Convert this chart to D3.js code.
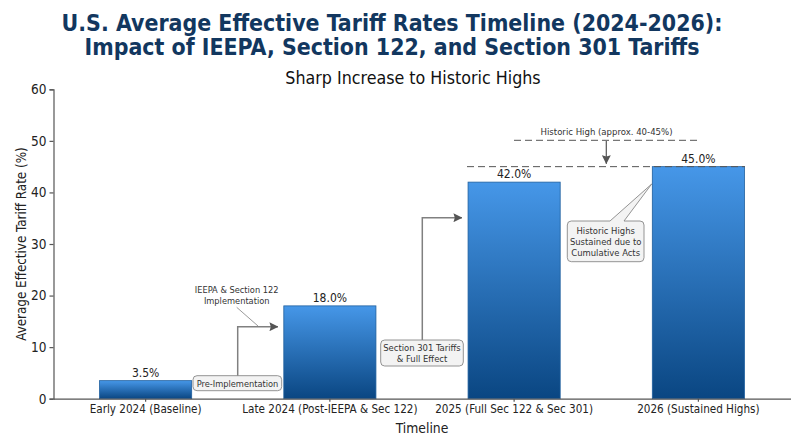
<!DOCTYPE html>
<html lang="en">
<head>
<meta charset="utf-8">
<script src="https://cdn.jsdelivr.net/npm/d3@7/dist/d3.min.js"></script>
<style>
html, body { margin: 0; padding: 0; background: #fff; }
svg { display: block; }
text { font-family: "DejaVu Sans Condensed", "DejaVu Sans", sans-serif; font-stretch: condensed; fill: #222; }
</style>
</head>
<body>
<script>
// chart values
const categories = ["Early 2024 (Baseline)", "Late 2024 (Post-IEEPA & Sec 122)", "2025 (Full Sec 122 & Sec 301)", "2026 (Sustained Highs)"];
const rates = [3.5, 18.0, 42.0, 45.0];
const yTicks = [0, 10, 20, 30, 40, 50, 60];
const titleLines = ["U.S. Average Effective Tariff Rates Timeline (2024-2026):", "Impact of IEEPA, Section 122, and Section 301 Tariffs"];

const width = 800, height = 447;
const svg = d3.select("body").append("svg").attr("width", width).attr("height", height);

const x = d3.scaleBand().domain(categories).range([53.5, 790.5]).paddingInner(0.5).paddingOuter(0.25);
const y = d3.scaleLinear().domain([0, 60]).range([398.7, 89.3]);
const cx = i => x(categories[i]) + x.bandwidth() / 2;

const defs = svg.append("defs");
const grad = defs.append("linearGradient").attr("id", "barFill").attr("x1", 0).attr("y1", 0).attr("x2", 0).attr("y2", 1);
grad.append("stop").attr("offset", "0%").attr("stop-color", "#4697e8");
grad.append("stop").attr("offset", "100%").attr("stop-color", "#0a4682");

const marker = defs.append("marker").attr("id", "arrow").attr("viewBox", "0 0 10 10")
	.attr("refX", 9.5).attr("refY", 5).attr("markerWidth", 9).attr("markerHeight", 9)
	.attr("markerUnits", "userSpaceOnUse").attr("orient", "auto");
marker.append("path").attr("d", "M0,0 L10,5 L0,10 L1.5,5 Z").attr("fill", "#555");

// titles
svg.append("g").selectAll("text").data(titleLines).enter().append("text")
	.attr("x", 392).attr("y", (d, i) => 31 + i * 24)
	.attr("text-anchor", "middle").attr("font-size", 22.9).attr("font-weight", "bold")
	.style("fill", "#12375f").text(d => d);
svg.append("text").attr("x", 413).attr("y", 84).attr("text-anchor", "middle")
	.attr("font-size", 17.7).style("fill", "#111").text("Sharp Increase to Historic Highs");

// bars
svg.selectAll("rect.bar").data(rates).enter().append("rect").attr("class", "bar")
	.attr("x", (d, i) => x(categories[i])).attr("width", x.bandwidth())
	.attr("y", d => y(d)).attr("height", d => y(0) - y(d))
	.attr("fill", "url(#barFill)").attr("stroke", "#1f5f9e").attr("stroke-width", 0.8);

svg.selectAll("text.val").data(rates).enter().append("text").attr("class", "val")
	.attr("x", (d, i) => cx(i)).attr("y", d => y(d) - 4)
	.attr("text-anchor", "middle").attr("font-size", 12)
	.text(d => d.toFixed(1) + "%");

// axes
const yAxis = svg.append("g").attr("transform", "translate(53.5,0)")
	.call(d3.axisLeft(y).tickValues(yTicks).tickSize(4).tickPadding(3));
const xAxis = svg.append("g").attr("transform", "translate(0,398.7)")
	.call(d3.axisBottom(x).tickSize(3).tickPadding(3).tickSizeOuter(0));
yAxis.selectAll("text").attr("font-size", 13.5).style("font-family", '"DejaVu Sans Condensed"').style("fill", "#222");
xAxis.selectAll("text").attr("font-size", 11.6).style("font-family", '"DejaVu Sans Condensed"').style("fill", "#222");
yAxis.selectAll("line,path").attr("stroke", "#555").attr("stroke-width", 1.2);
xAxis.selectAll("line,path").attr("stroke", "#555").attr("stroke-width", 1.2);

svg.append("text").attr("x", 422).attr("y", 433).attr("text-anchor", "middle").attr("font-size", 13.8).text("Timeline");
svg.append("text").attr("transform", "translate(26,244) rotate(-90)").attr("text-anchor", "middle")
	.attr("font-size", 13.3).text("Average Effective Tariff Rate (%)");

// annotations
const note = (lines, px, py, size, gap) => svg.append("g").selectAll("text").data(lines).enter().append("text")
	.attr("x", px).attr("y", (d, i) => py + i * gap)
	.attr("text-anchor", "middle").attr("font-size", size).style("fill", "#333").text(d => d);
const box = (bx, by, bw, bh) => svg.append("rect").attr("x", bx).attr("y", by).attr("width", bw).attr("height", bh)
	.attr("rx", 4).attr("fill", "#f3f3f3").attr("stroke", "#888").attr("stroke-width", 0.9);
const link = (d, w, withHead) => {
	const p = svg.append("path").attr("d", d).attr("fill", "none").attr("stroke", "#808080").attr("stroke-width", w);
	if (withHead) p.attr("marker-end", "url(#arrow)");
	return p;
};

link("M237.7,376 V326.7 H278", 1.5, true);
link("M422.3,341 V217.7 H462", 1.5, true);
link("M236.7,307.3 L258,326", 0.8, false);

box(193, 375.7, 88.7, 15);
note(["Pre-Implementation"], 237.5, 386.5, 9.2, 0);
note(["IEEPA & Section 122", "Implementation"], 236.7, 292.5, 9.2, 11);
box(380.7, 340, 82.6, 26);
note(["Section 301 Tariffs", "& Full Effect"], 422, 350.5, 9.4, 11);

// historic high lines
const dash = (x1, x2, yPos) => svg.append("line").attr("x1", x1).attr("x2", x2).attr("y1", yPos).attr("y2", yPos)
	.attr("stroke", "#555").attr("stroke-width", 1).attr("stroke-dasharray", "7,4");
dash(467, 745, y(45));
dash(514, 698, 140.3);
note(["Historic High (approx. 40-45%)"], 606.5, 134.5, 9.5, 0);
svg.append("path").attr("d", "M606.3,141 V163.7").attr("stroke", "#555").attr("stroke-width", 1.2).attr("marker-end", "url(#arrow)");

// callout
svg.append("path").attr("d", "M567.3,257.7 V225 Q567.3,221 571.3,221 H610 L651.7,184 L624,221 H640 Q644,221 644,225 V257.7 Q644,261.7 640,261.7 H571.3 Q567.3,261.7 567.3,257.7 Z")
	.attr("fill", "#f3f3f3").attr("stroke", "#888").attr("stroke-width", 0.9);
note(["Historic Highs", "Sustained due to", "Cumulative Acts"], 605.7, 233.5, 9.4, 11.3);
</script>
</body>
</html>
